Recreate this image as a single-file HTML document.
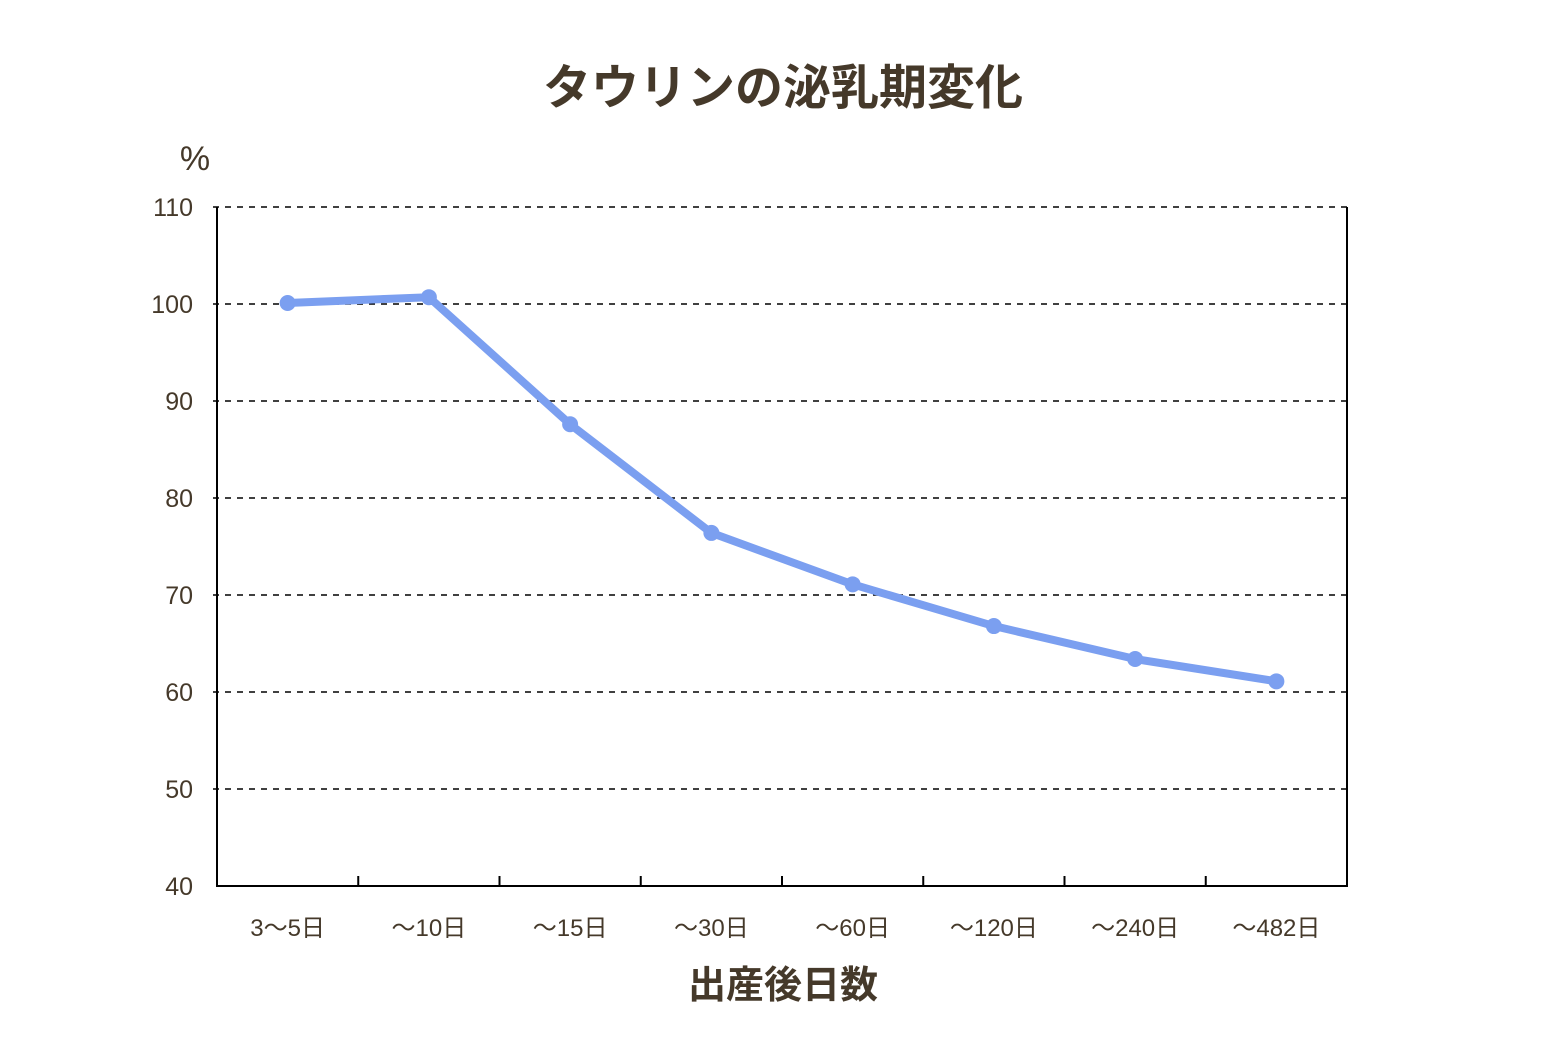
<!DOCTYPE html>
<html><head><meta charset="utf-8"><style>
body{margin:0;background:#fff;}
svg text{font-family:"Liberation Sans","Noto Sans CJK JP",sans-serif;fill:#45392a;}
</style></head><body>
<svg width="1560" height="1040" xmlns="http://www.w3.org/2000/svg">
<text x="783" y="104" font-size="48" font-weight="bold" text-anchor="middle">タウリンの泌乳期変化</text>
<text x="195" y="170" font-size="34" text-anchor="middle">%</text>
<text x="783" y="998" font-size="38" font-weight="bold" text-anchor="middle">出産後日数</text>
<g id="grid"></g><g id="axes"></g><g id="series"></g>
</svg>
<script>
const categories=["3〜5日","〜10日","〜15日","〜30日","〜60日","〜120日","〜240日","〜482日"];
const values=[100.1,100.7,87.6,76.4,71.1,66.8,63.4,61.1];
const yTicks=[40,50,60,70,80,90,100,110];
const NS="http://www.w3.org/2000/svg";
const L=217,R=1347,T=207,B=886,ymin=40,ymax=110;
const yS=v=>B-(v-ymin)/(ymax-ymin)*(B-T);
const band=(R-L)/categories.length;
const xS=i=>L+band*(i+0.5);
function mk(tag,at,parent){const e=document.createElementNS(NS,tag);for(const k in at)e.setAttribute(k,at[k]);document.getElementById(parent).appendChild(e);return e;}
yTicks.forEach(v=>{
  if(v>ymin){const g=mk('line',{x1:L-4,x2:R,y1:yS(v),y2:yS(v),stroke:'#000','stroke-width':1.5,'stroke-dasharray':'6,6'},'grid');
  
  }
  const t=mk('text',{x:193,y:yS(v)+9,'font-size':25,'text-anchor':'end'},'axes');t.textContent=v;
  
  
});
const ax=mk('path',{d:`M${L},${T} V${B} H${R} V${T}`,fill:'none',stroke:'#000','stroke-width':2},'axes');


for(let i=1;i<categories.length;i++){const tk=mk('line',{x1:L+band*i,x2:L+band*i,y1:B,y2:B-10,stroke:'#000','stroke-width':2},'axes');

}
categories.forEach((c,i)=>{const t=mk('text',{x:xS(i),y:936,'font-size':24,'text-anchor':'middle'},'axes');t.textContent=c;

});
const pl=mk('polyline',{points:values.map((v,i)=>xS(i)+','+yS(v)).join(' '),fill:'none',stroke:'#7b9ff0','stroke-width':8,'stroke-linejoin':'round'},'series');


values.forEach((v,i)=>{const c=mk('circle',{cx:xS(i),cy:yS(v),r:8,fill:'#7b9ff0'},'series');

});
</script>
</body></html>
